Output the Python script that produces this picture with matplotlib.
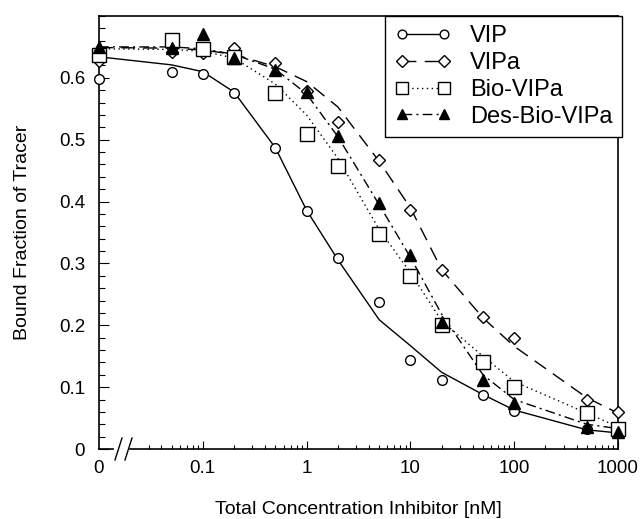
import numpy as np
import matplotlib
matplotlib.use("Agg")
import matplotlib.pyplot as plt
from matplotlib.lines import Line2D
from matplotlib.ticker import FixedLocator, NullFormatter

plt.rcParams['font.family'] = ['Liberation Sans', 'DejaVu Sans']

# concentrations in nM (0 = no inhibitor, drawn at the axis break)
conc = [0, 0.05, 0.1, 0.2, 0.5, 1, 2, 5, 10, 20, 50, 100, 500, 1000]

# measured bound fractions
vip = [0.598, 0.610, 0.607, 0.575, 0.487, 0.385, 0.308, 0.237, 0.144, 0.112, 0.088, 0.062, 0.033, 0.030]
vipa = [0.628, 0.642, 0.640, 0.649, 0.624, 0.579, 0.529, 0.467, 0.387, 0.289, 0.213, 0.179, 0.079, 0.060]
bio = [0.637, 0.662, 0.646, 0.633, 0.576, 0.509, 0.457, 0.348, 0.279, 0.201, 0.140, 0.101, 0.059, 0.032]
des = [0.650, 0.648, 0.671, 0.632, 0.613, 0.577, 0.506, 0.398, 0.314, 0.206, 0.112, 0.075, 0.035, 0.028]

# fitted curves at the same concentrations
vip_fit = [0.634, 0.621, 0.610, 0.577, 0.487, 0.386, 0.306, 0.209, 0.167, 0.124, 0.088, 0.063, 0.031, 0.026]
vipa_fit = [0.649, 0.648, 0.645, 0.638, 0.618, 0.594, 0.553, 0.465, 0.390, 0.290, 0.212, 0.166, 0.083, 0.058]
bio_fit = [0.647, 0.646, 0.643, 0.632, 0.590, 0.540, 0.470, 0.355, 0.285, 0.207, 0.150, 0.109, 0.058, 0.036]
des_fit = [0.650, 0.650, 0.647, 0.638, 0.614, 0.574, 0.505, 0.395, 0.310, 0.218, 0.120, 0.080, 0.040, 0.033]

names = ['VIP', 'VIPa', 'Bio-VIPa', 'Des-Bio-VIPa']
xtick_vals = [0.01, 0.1, 1, 10, 100, 1000]
xtick_labels = ['0', '0.1', '1', '10', '100', '1000']
ytick_vals = [0, 0.1, 0.2, 0.3, 0.4, 0.5, 0.6]
ytick_labels = ['0', '0.1', '0.2', '0.3', '0.4', '0.5', '0.6']

x = np.array(conc, dtype=float)
x[x == 0] = 0.01

styles = [
    dict(ls='-', marker='o', ms=7, mfc='white'),
    dict(ls=(0, (10, 6)), marker='D', ms=6.5, mfc='white'),
    dict(ls=(0, (1, 2.5)), marker='s', ms=10, mfc='white'),
    dict(ls=(0, (7, 3, 1.5, 3)), marker='^', ms=8, mfc='black'),
]
data = [vip, vipa, bio, des]
fits = [vip_fit, vipa_fit, bio_fit, des_fit]

fig = plt.figure(figsize=(6.44, 5.19), dpi=100)
ax = fig.add_axes([99/644, 70/519, 519/644, 433/519])

for st, d, f in zip(styles, data, fits):
    ax.plot(x, f, color='black', lw=1, ls=st['ls'], clip_on=False)
for st, d in zip(styles, data):
    ax.plot(x, d, ls='none', marker=st['marker'], ms=st['ms'], mfc=st['mfc'],
            mec='black', mew=1, clip_on=False, zorder=3)

ax.set_xscale('log')
ax.set_xlim(0.01, 1000)
ax.set_ylim(0, 0.70)

ax.xaxis.set_major_locator(FixedLocator(xtick_vals))
ax.set_xticklabels(xtick_labels)
minor = [m * 10.0**e for e in range(-2, 3) for m in range(2, 10)]
minor = [v for v in minor if v > 0.025]
ax.xaxis.set_minor_locator(FixedLocator(minor))
ax.xaxis.set_minor_formatter(NullFormatter())

ax.set_yticks(ytick_vals)
ax.set_yticklabels(ytick_labels)
ax.yaxis.set_minor_locator(FixedLocator(np.arange(0, 0.701, 0.02)))

ax.tick_params(which='both', direction='in', top=False, right=False, width=0.8, labelsize=13.5)
ax.tick_params(axis='y', which='major', length=7, pad=10)
ax.tick_params(axis='y', which='minor', length=4)
ax.tick_params(axis='x', which='major', length=6, pad=8)
ax.tick_params(axis='x', which='minor', length=3)
ax.xaxis.get_major_ticks()[0].tick1line.set_visible(False)

for s in ax.spines.values():
    s.set_linewidth(1.2)

# broken bottom axis near zero
ax.spines['bottom'].set_visible(False)
w, h = 519.0, 433.0
ax.plot([0, 14/w], [0, 0], color='black', lw=1.2, transform=ax.transAxes, clip_on=False)
ax.plot([31/w, 1], [0, 0], color='black', lw=1.2, transform=ax.transAxes, clip_on=False)
for x0 in (16, 26):
    ax.plot([x0/w, (x0+7)/w], [-11/h, 11/h], color='black', lw=1,
            transform=ax.transAxes, clip_on=False)

ax.set_xlabel('Total Concentration Inhibitor [nM]', fontsize=14, labelpad=17)
ax.set_ylabel('Bound Fraction of Tracer', fontsize=14, labelpad=20)

handles = [Line2D([], [], color='black', lw=1, ls=st['ls'], marker=st['marker'],
                  ms=st['ms'] * 0.9, mfc=st['mfc'], mec='black', mew=1) for st in styles]
leg = ax.legend(handles, names, loc='upper right', bbox_to_anchor=(523/w, 1.0),
                borderaxespad=0, numpoints=2, fontsize=17, handlelength=2.4,
                handletextpad=0.8, labelspacing=0.2, borderpad=0.4,
                fancybox=False, framealpha=1, edgecolor='black')
leg.get_frame().set_linewidth(1.0)

fig.savefig('out.png', dpi=100)
